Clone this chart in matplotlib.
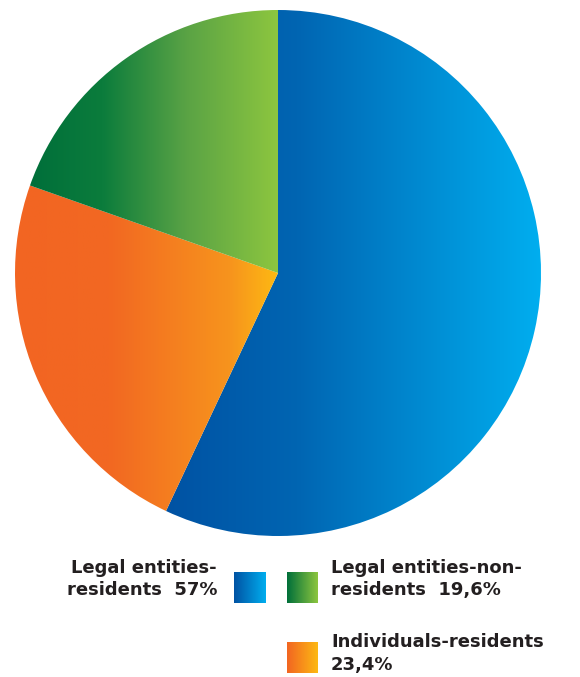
import numpy as np
import matplotlib
matplotlib.use("Agg")
import matplotlib.pyplot as plt
from matplotlib.colors import LinearSegmentedColormap

# data
labels = ["Legal entities-\nresidents", "Individuals-residents\n", "Legal entities-non-\nresidents"]
values = [57, 23.4, 19.6]
# gradient stops (position, colour) left -> right for each slice
grad_stops = [
    [(0, "#0052a3"), (0.35, "#0065b2"), (1, "#00aeef")],
    [(0, "#f26522"), (0.36, "#f26822"), (0.82, "#f7941d"), (1, "#fdb913")],
    [(0, "#006f3a"), (0.29, "#0b7c3c"), (0.63, "#5aa345"), (1, "#8dc63f")],
]

W, H = 580, 677
fig = plt.figure(figsize=(W / 100, H / 100), dpi=100)

# pie axes: centre (278,273) px, radius 263 px
cx, cy, r = 278, 273, 263
ax = fig.add_axes([(cx - r) / W, (H - cy - r) / H, 2 * r / W, 2 * r / H])
wedges, _ = ax.pie(values, startangle=90, counterclock=False, radius=1,
                   wedgeprops=dict(linewidth=0))
ax.set_aspect("equal")
ax.axis("off")

grad = np.linspace(0, 1, 256).reshape(1, -1)
for w, stops in zip(wedges, grad_stops):
    cmap = LinearSegmentedColormap.from_list("g", stops)
    ext = w.get_path().get_extents()
    w.set_facecolor("none")
    im = ax.imshow(grad, cmap=cmap, aspect="auto", interpolation="bilinear",
                   extent=[ext.x0, ext.x1, ext.y0, ext.y1], zorder=1)
    im.set_clip_path(w)
ax.set_xlim(-1, 1)
ax.set_ylim(-1, 1)


def swatch(x, y, stops, size=31):
    sa = fig.add_axes([x / W, (H - y - size) / H, size / W, size / H])
    sa.imshow(grad, cmap=LinearSegmentedColormap.from_list("s", [stops[0][1], stops[-1][1]]),
              aspect="auto", interpolation="bilinear")
    sa.axis("off")


def pct(v):
    return f"{v:g}%".replace(".", ",")


txt = dict(fontsize=13, fontweight="bold", color="#231f20", family="DejaVu Sans")

# legend: blue (text right-aligned, swatch right)
l1, l2 = labels[0].split("\n")
fig.text(217 / W, 1 - 573 / H, l1, ha="right", va="baseline", **txt)
fig.text(217 / W, 1 - 595 / H, l2 + "  " + pct(values[0]), ha="right", va="baseline", **txt)
swatch(234, 572, grad_stops[0])

# green
l1, l2 = labels[2].split("\n")
swatch(287, 572, grad_stops[2])
fig.text(331 / W, 1 - 573 / H, l1, ha="left", va="baseline", **txt)
fig.text(331 / W, 1 - 595 / H, l2 + "  " + pct(values[2]), ha="left", va="baseline", **txt)

# orange
l1, l2 = labels[1].split("\n")
swatch(287, 642, grad_stops[1])
fig.text(331 / W, 1 - 647 / H, l1, ha="left", va="baseline", **txt)
fig.text(331 / W, 1 - 670 / H, pct(values[1]), ha="left", va="baseline", **txt)

fig.savefig("out.png", dpi=100)
